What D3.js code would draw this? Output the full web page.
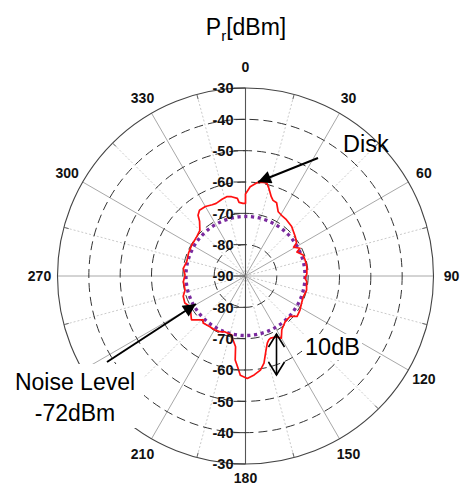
<!DOCTYPE html>
<html>
<head>
<meta charset="utf-8">
<script src="https://cdn.jsdelivr.net/npm/d3@7"></script>
<style>
  body { margin: 0; background: #fff; }
  svg { display: block; font-family: Arial, "Liberation Sans", sans-serif; }
</style>
</head>
<body>
<div id="chart"></div>
<script>
// angle ticks (deg, clockwise from top) and radial rings (dBm)
const angleTicks = [0, 30, 60, 90, 120, 150, 180, 210, 240, 270, 300, 330];
const minorAngles = [15, 45, 75, 105, 135, 165, 195, 225, 255, 285, 315, 345];
const ringValues = [-80, -70, -60, -50, -40];
const radialLabels = [-30, -40, -50, -60, -70, -80, -90];
const coveredLabels = [240]; // sits under the "Noise Level" note
const noiseLevel = -71;

// measured received power around the disk
const diskAngles = [0, 3, 7, 10, 13, 15, 18, 20, 23, 27, 32, 36, 43, 52, 57, 59, 63, 65, 70, 75,
  81, 88, 92, 95, 103, 110, 116, 122, 128, 132, 139, 146, 150, 153, 158, 160, 162, 165, 168, 171,
  175, 179, 183, 185, 187, 188, 191, 193, 197, 200, 205, 210, 215, 222, 224, 231, 241, 246, 252, 257,
  265, 271, 277, 284, 292, 300, 309, 315, 320, 322, 325, 330, 335, 338, 343, 347, 350, 354, 355, 358, 360];
const diskValues = [-63.8, -61.5, -60.0, -59.6, -59.6, -61.1, -63.4, -64.3, -64.6, -67.0, -67.6, -67.8, -68.4, -69.8, -70.6, -72.1, -70.5, -71.9, -70.4, -70.3,
  -70.2, -70.4, -71.0, -70.4, -70.0, -70.4, -70.1, -69.5, -69.1, -70.8, -70.7, -69.3, -67.1, -68.2, -68.6, -68.3, -67.5, -65.0, -61.6, -59.6,
  -58.3, -57.3, -58.3, -60.9, -63.0, -67.2, -69.2, -70.7, -70.9, -71.0, -70.4, -70.2, -70.2, -69.8, -70.5, -67.8, -69.8, -68.8, -69.1, -70.2,
  -70.1, -70.7, -70.0, -70.7, -70.4, -70.2, -70.0, -69.4, -67.2, -65.4, -64.4, -64.4, -64.9, -65.0, -64.4, -64.0, -64.3, -65.1, -66.4, -66.8, -66.8];

const width = 462, height = 486;
const cx = 245.5, cy = 276, R = 188;

const r = d3.scaleLinear().domain([-90, -30]).range([0, R]);
const rad = d => d * Math.PI / 180;

const svg = d3.select("#chart").append("svg")
  .attr("width", width)
  .attr("height", height);

const g = svg.append("g").attr("transform", `translate(${cx},${cy})`);

// minor dotted spokes
g.selectAll(".minor")
  .data(minorAngles)
  .enter().append("line")
  .attr("x1", 0).attr("y1", 0)
  .attr("x2", d => R * Math.sin(rad(d)))
  .attr("y2", d => -R * Math.cos(rad(d)))
  .attr("stroke", "#c4c4c4")
  .attr("stroke-width", 0.9)
  .attr("stroke-dasharray", "2,2");

// major spokes
g.selectAll(".major")
  .data(angleTicks)
  .enter().append("line")
  .attr("x1", 0).attr("y1", 0)
  .attr("x2", d => R * Math.sin(rad(d)))
  .attr("y2", d => -R * Math.cos(rad(d)))
  .attr("stroke", d => (d % 180 === 0) ? "#555" : "#a8a8a8")
  .attr("stroke-width", d => (d % 180 === 0) ? 1.1 : 1);

// dashed rings
g.selectAll(".ring")
  .data(ringValues)
  .enter().append("circle")
  .attr("r", d => r(d))
  .attr("fill", "none")
  .attr("stroke", "#333")
  .attr("stroke-width", 1)
  .attr("stroke-dasharray", "9,5");

// outer ring
g.append("circle")
  .attr("r", r(-30))
  .attr("fill", "none")
  .attr("stroke", "#444")
  .attr("stroke-width", 1.1);

// small ticks on outer ring
g.selectAll(".otick")
  .data(minorAngles)
  .enter().append("line")
  .attr("x1", d => (R - 5) * Math.sin(rad(d)))
  .attr("y1", d => -(R - 5) * Math.cos(rad(d)))
  .attr("x2", d => R * Math.sin(rad(d)))
  .attr("y2", d => -R * Math.cos(rad(d)))
  .attr("stroke", "#666")
  .attr("stroke-width", 1);

// noise level (dotted purple)
g.append("circle")
  .attr("r", r(noiseLevel))
  .attr("fill", "none")
  .attr("stroke", "#7a2a9e")
  .attr("stroke-width", 3.3)
  .attr("stroke-dasharray", "3.2,3.6");

// measured curve
const line = d3.lineRadial()
  .angle(d => rad(d[0]))
  .radius(d => r(d[1]));

g.append("path")
  .datum(d3.zip(diskAngles, diskValues))
  .attr("d", d => line(d) + "Z")
  .attr("fill", "none")
  .attr("stroke", "#ff1010")
  .attr("stroke-width", 1.7)
  .attr("stroke-linejoin", "round");

// radial labels along the vertical axis (top and bottom)
const radialPos = [];
radialLabels.forEach(v => {
  radialPos.push({ v: v, y: -r(v) });
  if (v !== -90) radialPos.push({ v: v, y: r(v) });
});

g.selectAll(".rtick")
  .data(radialPos)
  .enter().append("line")
  .attr("x1", -12).attr("x2", 0)
  .attr("y1", d => d.y).attr("y2", d => d.y)
  .attr("stroke", "#333")
  .attr("stroke-width", 1);

g.selectAll(".rlabel")
  .data(radialPos)
  .enter().append("text")
  .attr("x", -12)
  .attr("y", d => d.y)
  .attr("dy", "0.36em")
  .attr("text-anchor", "end")
  .attr("font-size", 14.5)
  .attr("font-weight", "bold")
  .attr("fill", "#111")
  .text(d => d.v);

// angle labels
const labelR = d => d === 180 ? 202 : (d === 0 ? 209 : 206);
g.selectAll(".alabel")
  .data(angleTicks.filter(d => !coveredLabels.includes(d)))
  .enter().append("text")
  .attr("x", d => labelR(d) * Math.sin(rad(d)))
  .attr("y", d => -labelR(d) * Math.cos(rad(d)))
  .attr("dy", "0.36em")
  .attr("text-anchor", "middle")
  .attr("font-size", 14)
  .attr("font-weight", "bold")
  .attr("fill", "#111")
  .text(d => d);

// title
const title = svg.append("text")
  .attr("x", 246)
  .attr("y", 35)
  .attr("text-anchor", "middle")
  .attr("font-size", 23)
  .attr("fill", "#000");
title.append("tspan").text("P");
title.append("tspan").attr("font-size", 15).attr("dy", 6).text("r");
title.append("tspan").attr("dy", -6).text("[dBm]");

// annotations
svg.append("defs").append("marker")
  .attr("id", "bighead")
  .attr("viewBox", "0 0 10 10")
  .attr("refX", 10).attr("refY", 5)
  .attr("markerWidth", 16).attr("markerHeight", 13)
  .attr("markerUnits", "userSpaceOnUse")
  .attr("orient", "auto")
  .append("path")
  .attr("d", "M0,0L10,5L0,10Z")
  .attr("fill", "#000");

svg.append("text")
  .attr("x", 343).attr("y", 152)
  .attr("font-size", 23.5)
  .text("Disk");

svg.append("line")
  .attr("x1", 318).attr("y1", 158)
  .attr("x2", 258).attr("y2", 182)
  .attr("stroke", "#000").attr("stroke-width", 2)
  .attr("marker-end", "url(#bighead)");

// white box behind the noise note
svg.append("rect")
  .attr("x", 8).attr("y", 364)
  .attr("width", 136).attr("height", 64)
  .attr("fill", "#fff");

svg.append("line")
  .attr("x1", 107).attr("y1", 362)
  .attr("x2", 196).attr("y2", 304)
  .attr("stroke", "#000").attr("stroke-width", 2)
  .attr("marker-end", "url(#bighead)");

svg.append("text")
  .attr("x", 75).attr("y", 390)
  .attr("text-anchor", "middle")
  .attr("font-size", 23)
  .text("Noise Level");

svg.append("text")
  .attr("x", 75).attr("y", 421)
  .attr("text-anchor", "middle")
  .attr("font-size", 23)
  .text("-72dBm");

// 10 dB double arrow
const ax = 276.5, ayTop = 334, ayBot = 375;
svg.append("line")
  .attr("x1", ax).attr("y1", ayTop)
  .attr("x2", ax).attr("y2", ayBot)
  .attr("stroke", "#000").attr("stroke-width", 1.6);
svg.append("path")
  .attr("d", `M${ax - 8},${ayTop + 13}L${ax},${ayTop}L${ax + 8},${ayTop + 13}`)
  .attr("fill", "none").attr("stroke", "#000").attr("stroke-width", 1.6);
svg.append("path")
  .attr("d", `M${ax - 8},${ayBot - 13}L${ax},${ayBot}L${ax + 8},${ayBot - 13}`)
  .attr("fill", "none").attr("stroke", "#000").attr("stroke-width", 1.6);

svg.append("rect")
  .attr("x", 302).attr("y", 334)
  .attr("width", 60).attr("height", 26)
  .attr("fill", "#fff");

svg.append("text")
  .attr("x", 305).attr("y", 355)
  .attr("font-size", 23.5)
  .text("10dB");
</script>
</body>
</html>
